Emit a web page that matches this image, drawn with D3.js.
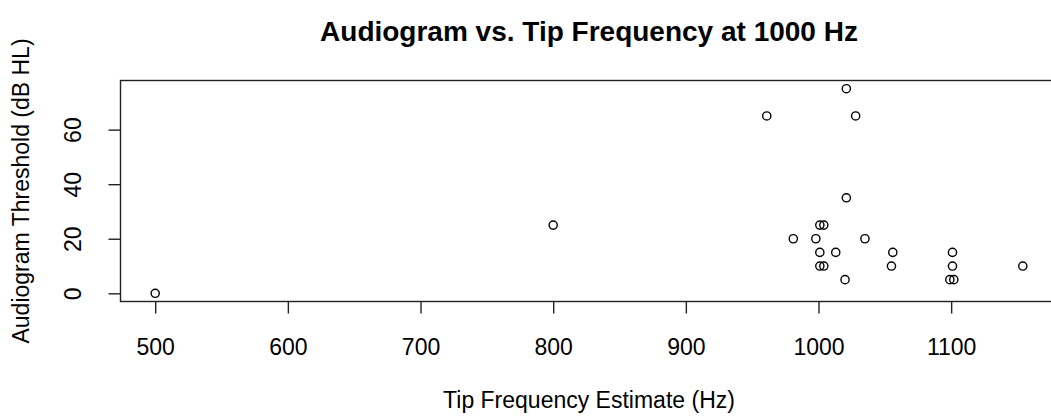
<!DOCTYPE html>
<html>
<head>
<meta charset="utf-8">
<script src="https://cdn.jsdelivr.net/npm/d3@7"></script>
<style>
  html, body { margin: 0; padding: 0; background: #fff; }
  svg text { font-family: "Liberation Sans", Arial, sans-serif; fill: #000; }
</style>
</head>
<body>
<svg id="chart" width="1051" height="416"></svg>
<script>
// Tip frequency estimates (Hz) and audiogram thresholds (dB HL) per ear
const tipFrequency = [500, 800, 961, 1021, 1028, 1021, 1001, 1004, 981, 998, 1035,
                      1001, 1013, 1056, 1001, 1004, 1055, 1020, 1101, 1101, 1099, 1102, 1154];
const threshold    = [0, 25, 65, 75, 65, 35, 25, 25, 20, 20, 20,
                      15, 15, 15, 10, 10, 10, 5, 15, 10, 5, 5, 10];
const xTicks = [500, 600, 700, 800, 900, 1000, 1100];
const yTicks = [0, 20, 40, 60];

const titleText = "Audiogram vs. Tip Frequency at 1000 Hz";
const xLabel = "Tip Frequency Estimate (Hz)";
const yLabel = "Audiogram Threshold (dB HL)";

const svg = d3.select("#chart");

// plot region (right edge runs just past the canvas)
const plotLeft = 120.5, plotRight = 1057.5, plotTop = 80.5, plotBottom = 301.5;

// 4% padding around the data range on each axis
function padded(vals) {
  const [a, b] = d3.extent(vals);
  const p = (b - a) * 0.04;
  return [a - p, b + p];
}

const x = d3.scaleLinear().domain(padded(tipFrequency)).range([plotLeft, plotRight]);
const y = d3.scaleLinear().domain(padded(threshold)).range([plotBottom, plotTop]);

// frame
svg.append("rect")
  .attr("x", plotLeft).attr("y", plotTop)
  .attr("width", plotRight - plotLeft).attr("height", plotBottom - plotTop)
  .attr("fill", "none").attr("stroke", "#222").attr("stroke-width", 1.4);

// x axis
const xAxis = svg.append("g")
  .attr("transform", `translate(0,${plotBottom})`)
  .call(d3.axisBottom(x).tickValues(xTicks).tickSize(12).tickPadding(0).tickFormat(d3.format("d")));
xAxis.select(".domain").remove();
xAxis.selectAll("line").attr("stroke", "#222").attr("stroke-width", 1.4);
xAxis.selectAll("text")
  .attr("y", 53).attr("dy", null)
  .attr("font-size", 23);

// y axis with vertical labels
const yAxis = svg.append("g")
  .attr("transform", `translate(${plotLeft},0)`)
  .call(d3.axisLeft(y).tickValues(yTicks).tickSize(12).tickFormat(d3.format("d")));
yAxis.select(".domain").remove();
yAxis.selectAll("line").attr("stroke", "#222").attr("stroke-width", 1.4);
yAxis.selectAll("text")
  .attr("x", null).attr("dy", null)
  .attr("text-anchor", "middle")
  .attr("font-size", 23)
  .attr("transform", "translate(-40,0) rotate(-90)");

// points
svg.append("g")
  .selectAll("circle")
  .data(tipFrequency.map((f, i) => ({ f, t: threshold[i] })))
  .join("circle")
  .attr("cx", d => x(d.f))
  .attr("cy", d => y(d.t))
  .attr("r", 4.1)
  .attr("fill", "none")
  .attr("stroke", "#000")
  .attr("stroke-width", 1.4);

// titles
svg.append("text")
  .attr("x", (plotLeft + plotRight) / 2).attr("y", 41)
  .attr("text-anchor", "middle")
  .attr("font-size", 28).attr("font-weight", "bold")
  .text(titleText);

svg.append("text")
  .attr("x", (plotLeft + plotRight) / 2).attr("y", 408)
  .attr("text-anchor", "middle")
  .attr("font-size", 23)
  .text(xLabel);

svg.append("text")
  .attr("transform", `translate(29,${(plotTop + plotBottom) / 2}) rotate(-90)`)
  .attr("text-anchor", "middle")
  .attr("font-size", 23)
  .text(yLabel);
</script>
</body>
</html>
